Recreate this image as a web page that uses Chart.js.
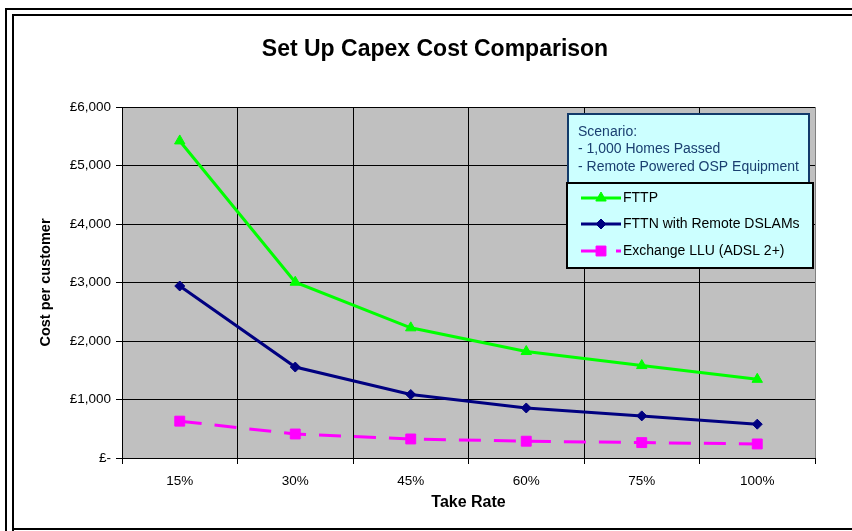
<!DOCTYPE html>
<html>
<head>
<meta charset="utf-8">
<title>Set Up Capex Cost Comparison</title>
<script src="https://cdn.jsdelivr.net/npm/chart.js@4.4.1/dist/chart.umd.min.js"></script>
<style>
	body { margin: 0; background: #ffffff; }
	#capexchart { display: block; }
</style>
</head>
<body>
<canvas id="capexchart" width="852" height="531"></canvas>
<script>
var takeRates = ['15%', '30%', '45%', '60%', '75%', '100%'];
var fttp = [5420, 3005, 2225, 1820, 1580, 1345];
var fttn = [2940, 1555, 1085, 855, 720, 578];
var llu = [630, 410, 325, 287, 263, 240];
var seriesNames = ['FTTP', 'FTTN with Remote DSLAMs', 'Exchange LLU (ADSL 2+)'];
var scenarioLines = ['Scenario:', '- 1,000 Homes Passed', '- Remote Powered OSP Equipment'];

var fontName = '"Liberation Sans", Arial, sans-serif';

// double frame round the whole chart, like the excel chart area border
var framePlugin = {
	id: 'frame',
	beforeDraw: function(chart) {
		var ctx = chart.ctx;
		var a = chart.chartArea;
		ctx.save();
		ctx.fillStyle = '#ffffff';
		ctx.fillRect(0, 0, chart.width, chart.height);
		ctx.strokeStyle = '#000000';
		ctx.lineWidth = 2;
		ctx.beginPath();
		ctx.moveTo(6, 531); ctx.lineTo(6, 9); ctx.lineTo(852, 9);
		ctx.moveTo(13, 531); ctx.lineTo(13, 15); ctx.lineTo(852, 15);
		ctx.moveTo(13, 529); ctx.lineTo(852, 529);
		ctx.stroke();
		// grey plot area
		ctx.fillStyle = '#c0c0c0';
		ctx.fillRect(a.left, a.top, a.right - a.left, a.bottom - a.top);
		ctx.restore();
	},
	beforeDatasetsDraw: function(chart) {
		var a = chart.chartArea;
		var ctx = chart.ctx;
		ctx.save();
		ctx.strokeStyle = '#808080';
		ctx.lineWidth = 1;
		ctx.beginPath();
		ctx.moveTo(a.right + 0.5, a.top);
		ctx.lineTo(a.right + 0.5, a.bottom);
		ctx.stroke();
		ctx.restore();
	}
};

// scenario note and legend boxes drawn over the plot
var boxesPlugin = {
	id: 'boxes',
	afterDraw: function(chart) {
		var ctx = chart.ctx;
		ctx.save();

		ctx.fillStyle = '#ccffff';
		ctx.fillRect(568, 114, 241, 70);
		ctx.strokeStyle = '#123a6a';
		ctx.lineWidth = 2;
		ctx.strokeRect(568, 114, 241, 70);
		ctx.fillStyle = '#1a3f70';
		ctx.font = '14px ' + fontName;
		ctx.textBaseline = 'middle';
		ctx.textAlign = 'left';
		scenarioLines.forEach(function(line, i) {
			ctx.fillText(line, 578, 132 + i * 17.5);
		});

		ctx.fillStyle = '#ccffff';
		ctx.fillRect(567, 183, 246, 85);
		ctx.strokeStyle = '#000000';
		ctx.strokeRect(567, 183, 246, 85);

		var rows = [198, 224, 251];
		chart.data.datasets.forEach(function(ds, i) {
			var y = rows[i];
			ctx.strokeStyle = ds.borderColor;
			ctx.lineWidth = ds.borderWidth;
			ctx.setLineDash(ds.borderDash || []);
			ctx.beginPath();
			ctx.moveTo(581, y);
			ctx.lineTo(621, y);
			ctx.stroke();
			ctx.setLineDash([]);
			ctx.fillStyle = ds.pointBackgroundColor;
			ctx.strokeStyle = ds.pointBorderColor;
			ctx.lineWidth = 1;
			Chart.helpers.drawPoint(ctx, {
				pointStyle: ds.pointStyle,
				radius: ds.pointRadius,
				rotation: 0,
				borderWidth: 1
			}, 601, y);
			ctx.fillStyle = '#000000';
			ctx.font = '14px ' + fontName;
			ctx.fillText(ds.label, 623, y);
		});
		ctx.restore();
	}
};

var ctx = document.getElementById('capexchart').getContext('2d');

var capexchart = new Chart(ctx, {
	type: 'line',
	data: {
		labels: takeRates,
		datasets: [
			{
				label: seriesNames[0],
				data: fttp,
				borderColor: '#00ff00',
				backgroundColor: '#00ff00',
				borderWidth: 3,
				pointStyle: 'triangle',
				pointRadius: 6,
				pointBackgroundColor: '#00ff00',
				pointBorderColor: '#00ff00',
				pointBorderWidth: 1
			},
			{
				label: seriesNames[1],
				data: fttn,
				borderColor: '#000080',
				backgroundColor: '#000080',
				borderWidth: 3,
				pointStyle: 'rectRot',
				pointRadius: 5,
				pointBackgroundColor: '#000080',
				pointBorderColor: '#000080',
				pointBorderWidth: 1
			},
			{
				label: seriesNames[2],
				data: llu,
				borderColor: '#ff00ff',
				backgroundColor: '#ff00ff',
				borderWidth: 3,
				borderDash: [22, 13],
				pointStyle: 'rect',
				pointRadius: 7,
				pointBackgroundColor: '#ff00ff',
				pointBorderColor: '#ff00ff',
				pointBorderWidth: 1
			}
		]
	},
	options: {
		responsive: false,
		animation: false,
		layout: { padding: { left: 18, right: 0, top: 0, bottom: 0 } },
		plugins: {
			legend: { display: false },
			tooltip: { enabled: false },
			title: {
				display: true,
				text: 'Set Up Capex Cost Comparison',
				color: '#000000',
				font: { family: fontName, size: 23, weight: 'bold' },
				padding: { top: 36, bottom: 43.4 }
			}
		},
		scales: {
			x: {
				offset: true,
				grid: { offset: true, color: '#000000', lineWidth: 1, tickLength: 6, drawTicks: true },
				border: { color: '#000000', width: 1 },
				ticks: { color: '#000000', font: { family: fontName, size: 13.5 }, padding: 9, maxRotation: 0 },
				title: {
					display: true,
					text: 'Take Rate',
					color: '#000000',
					font: { family: fontName, size: 16, weight: 'bold' },
					padding: { top: 0, bottom: 18.4 }
				},
				afterFit: function(scale) { scale.height = 73; }
			},
			y: {
				min: 0,
				max: 6000,
				grid: { color: '#000000', lineWidth: 1, tickLength: 6 },
				border: { color: '#000000', width: 1 },
				ticks: {
					stepSize: 1000,
					color: '#000000',
					padding: 5,
					font: { family: fontName, size: 13.5 },
					callback: function(value) {
						if (value === 0) return '£-';
						return '£' + value.toLocaleString('en-GB');
					}
				},
				title: {
					display: true,
					text: 'Cost per customer',
					color: '#000000',
					font: { family: fontName, size: 14.5, weight: 'bold' },
					padding: { top: 18.8, bottom: 0 }
				},
				afterFit: function(scale) { scale.width = 104; }
			},
			// empty right side margin, keeps the title centred like the original
			yRight: {
				position: 'right',
				display: true,
				grid: { display: false },
				border: { display: false },
				ticks: { display: false },
				afterFit: function(scale) { scale.width = 37; }
			}
		}
	},
	plugins: [framePlugin, boxesPlugin]
});
</script>
</body>
</html>
